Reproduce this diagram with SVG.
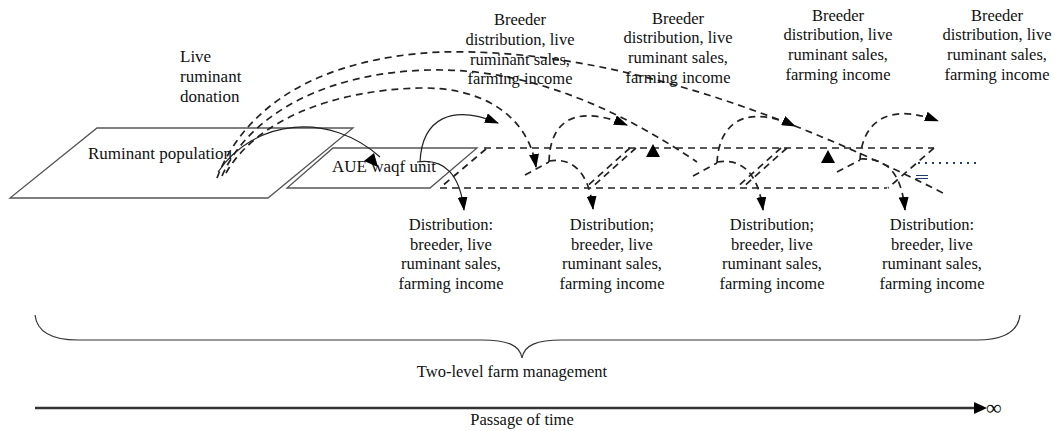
<svg xmlns="http://www.w3.org/2000/svg" width="1055" height="431" viewBox="0 0 1055 431">
<defs>
<style>
.t{font-family:"Liberation Serif","Times New Roman",serif;fill:#111;}
.l17{font-size:17px;}
.l16{font-size:16.5px;}
.pg{fill:none;stroke:#555;stroke-width:1.3;}
.ds{fill:none;stroke:#222;stroke-width:1.7;stroke-dasharray:7,5;}
.so{fill:none;stroke:#222;stroke-width:1.2;}
.tri{fill:#000;}
</style>
<marker id="ah" viewBox="0 0 14 10" refX="13" refY="5" markerWidth="14" markerHeight="10" markerUnits="userSpaceOnUse" orient="auto">
<path d="M0,0 L14,5 L0,10 Z" fill="#000"/>
</marker>
</defs>
<rect width="1055" height="431" fill="#fff"/>

<g id="ruminant-population">
<polygon class="pg" points="97,128 353,128 268,198 10,198"/>
<text class="t l17" x="88" y="159">Ruminant population</text>
</g>

<g id="aue-waqf-unit">
<polygon class="pg" points="333,148 477,148 430,188 287,188"/>
<text class="t l17" x="332" y="172">AUE waqf unit</text>
</g>

<g id="donation-label">
<text class="t l17" x="180" y="62">Live</text>
<text class="t l17" x="180" y="82">ruminant</text>
<text class="t l17" x="180" y="102">donation</text>
</g>

<g id="connectors">
<!-- big dashed arcs from ruminant population -->
<path class="ds" d="M217,178 C245,105 320,58 440,52 C590,48 760,100 947,195"/>
<path class="ds" d="M222,176 C250,112 330,72 430,70 C530,68 620,110 697,162"/>
<path class="ds" d="M226,173 C255,122 330,90 420,88 C482,87 528,115 536,167" marker-end="url(#ah)"/>
<!-- solid arcs -->
<path class="so" d="M218,172 C255,118 330,112 380,157"/>
<polygon class="tri" points="364,161 374,153 378,167"/>
<path class="so" d="M420,162 C422,118 452,104 498,123" marker-end="url(#ah)"/>
<path class="so" d="M417,162 C445,158 460,175 464,210" marker-end="url(#ah)"/>
<!-- dashed farm layers -->
<path class="ds" d="M484,148 H934"/>
<path class="ds" d="M440,188 H887"/>
<path class="ds" d="M486,149 L441,187"/>
<path class="ds" d="M934,148 L888,188"/>
<path class="ds" d="M630,148 L585,188"/>
<path class="ds" d="M636,148 L591,188"/>
<path class="ds" d="M781,148 L736,188"/>
<path class="ds" d="M787,148 L742,188"/>
<polygon class="tri" points="653,144 646,157 660,157"/>
<polygon class="tri" points="828,150 821,163 835,163"/>
<!-- segment 1 -->
<path class="ds" d="M525,175 L549,162"/>
<path class="ds" d="M549,162 C550,120 576,104 627,125" marker-end="url(#ah)"/>
<path class="ds" d="M549,161 C572,157 589,172 593,209" marker-end="url(#ah)"/>
<!-- segment 2 -->
<path class="ds" d="M693,176 L717,163"/>
<path class="ds" d="M717,163 C719,122 746,104 795,126" marker-end="url(#ah)"/>
<path class="ds" d="M717,162 C741,158 758,172 763,210" marker-end="url(#ah)"/>
<!-- segment 3 -->
<path class="ds" d="M837,172 L860,160"/>
<path class="ds" d="M860,160 C862,122 888,102 938,121" marker-end="url(#ah)"/>
<path class="ds" d="M860,159 C885,158 901,170 905,210" marker-end="url(#ah)"/>
<!-- continuation -->
<path d="M918,163 H980" fill="none" stroke="#223a6a" stroke-width="1.8" stroke-dasharray="2,5"/>
<path d="M916,175.5 H928 M916,178.5 H928" fill="none" stroke="#223a6a" stroke-width="1"/>
<!-- brace -->
<path d="M35,315 C37,332 52,340 78,340 L482,340 C507,340 520,345 522,358 C524,345 537,340 562,340 L977,340 C1003,340 1018,332 1020,315" fill="none" stroke="#333" stroke-width="1.2"/>
<!-- time arrow -->
<path d="M35,408 H976" fill="none" stroke="#333" stroke-width="2.4"/>
<path d="M974,402 L987,408 L974,414 Z" fill="#000"/>
</g>

<g id="top-labels" class="t l16" text-anchor="middle">
<text x="520" y="25">Breeder</text>
<text x="520" y="45">distribution, live</text>
<text x="520" y="65">ruminant sales,</text>
<text x="520" y="84">farming income</text>
<text x="678" y="24">Breeder</text>
<text x="678" y="43">distribution, live</text>
<text x="678" y="63">ruminant sales,</text>
<text x="678" y="83">farming income</text>
<text x="838" y="21">Breeder</text>
<text x="838" y="40">distribution, live</text>
<text x="838" y="60">ruminant sales,</text>
<text x="838" y="80">farming income</text>
<text x="997" y="21">Breeder</text>
<text x="997" y="40">distribution, live</text>
<text x="997" y="60">ruminant sales,</text>
<text x="997" y="80">farming income</text>
</g>

<g id="bottom-labels" class="t l16" text-anchor="middle">
<text x="451" y="230">Distribution:</text>
<text x="451" y="250">breeder, live</text>
<text x="451" y="269">ruminant sales,</text>
<text x="451" y="289">farming income</text>
<text x="612" y="230">Distribution;</text>
<text x="612" y="250">breeder, live</text>
<text x="612" y="269">ruminant sales,</text>
<text x="612" y="289">farming income</text>
<text x="772" y="230">Distribution;</text>
<text x="772" y="250">breeder, live</text>
<text x="772" y="269">ruminant sales,</text>
<text x="772" y="289">farming income</text>
<text x="932" y="230">Distribution:</text>
<text x="932" y="250">breeder, live</text>
<text x="932" y="269">ruminant sales,</text>
<text x="932" y="289">farming income</text>
</g>

<g id="management-label">
<text class="t l16" x="512" y="377" text-anchor="middle">Two-level farm management</text>
</g>
<g id="time-label">
<text class="t l16" x="522" y="425" text-anchor="middle">Passage of time</text>
<text class="t" x="986" y="415" font-size="22">∞</text>
</g>
</svg>
